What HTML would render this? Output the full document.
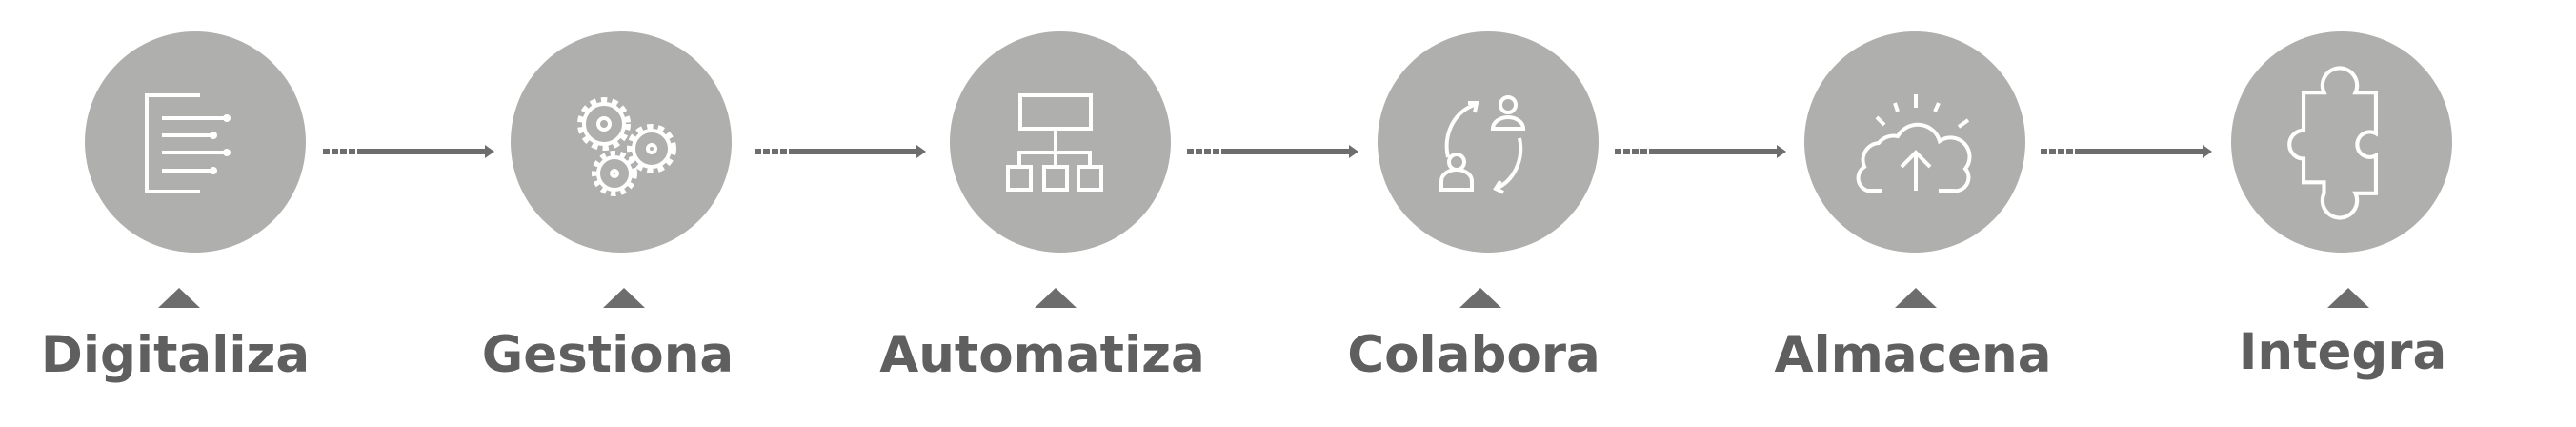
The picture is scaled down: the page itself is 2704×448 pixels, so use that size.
<!DOCTYPE html>
<html><head><meta charset="utf-8"><style>
html,body{margin:0;padding:0;background:#fff;}
svg{display:block;}
text{font-family:"DejaVu Sans","Liberation Sans",sans-serif;font-weight:bold;fill:#5f5f5f;font-size:53px;}
</style></head><body>
<svg width="2704" height="448" viewBox="0 0 2704 448" xmlns="http://www.w3.org/2000/svg">
<defs>
<g id="arr">
<line x1="0" y1="0" x2="38" y2="0" stroke="#6d6d6d" stroke-width="6" stroke-dasharray="7 2"/>
<line x1="38" y1="0" x2="172" y2="0" stroke="#6d6d6d" stroke-width="6"/>
<path d="M170,-7 L180,0 L170,7 Z" fill="#6d6d6d"/>
</g>
</defs>
<g fill="#afafad">
<circle cx="205" cy="149" r="116"/>
<circle cx="652" cy="149" r="116"/>
<circle cx="1113" cy="149" r="116"/>
<circle cx="1562" cy="149" r="116"/>
<circle cx="2010" cy="149" r="116"/>
<circle cx="2458" cy="149" r="116"/>
</g>
<use href="#arr" x="339" y="159"/>
<use href="#arr" x="792" y="159"/>
<use href="#arr" x="1246" y="159"/>
<use href="#arr" x="1695" y="159"/>
<use href="#arr" x="2142" y="159"/>
<g fill="#6d6d6d">
<path d="M166,323 L188,302 L210,323 Z"/>
<path d="M633,323 L655,302 L677,323 Z"/>
<path d="M1086,323 L1108,302 L1130,323 Z"/>
<path d="M1532,323 L1554,302 L1576,323 Z"/>
<path d="M1989,323 L2011,302 L2033,323 Z"/>
<path d="M2443,323 L2465,302 L2487,323 Z"/>
</g>
<g fill="none" stroke="#fff" stroke-width="4">
<!-- icon 1 -->
<path d="M210,100 H154 V201 H210"/>
<path d="M170,124 H236 M170,142 H222 M170,160 H236 M170,179 H222"/>
<g fill="#fff" stroke="none"><circle cx="238" cy="124" r="4"/><circle cx="224" cy="142" r="4"/><circle cx="238" cy="160" r="4"/><circle cx="224" cy="179" r="4"/></g>
<!-- icon 2 gears -->
<circle cx="634" cy="130" r="24" stroke-width="8" stroke-dasharray="6 5"/><circle cx="634" cy="130" r="21" fill="#afafad"/><circle cx="634" cy="130" r="6"/>
<circle cx="684" cy="156" r="22" stroke-width="8" stroke-dasharray="6 5"/><circle cx="684" cy="156" r="19" fill="#afafad"/><circle cx="684" cy="156" r="4"/>
<circle cx="645" cy="182" r="20" stroke-width="8" stroke-dasharray="5 5"/><circle cx="645" cy="182" r="17" fill="#afafad"/><circle cx="645" cy="182" r="3"/>
<!-- icon 3 -->
<g transform="translate(-5,0)">
<rect x="1076" y="100" width="74" height="35"/>
<path d="M1113,135 V160 M1075,175 V160 H1149 V175 M1113,160 V175"/>
<rect x="1063" y="175" width="24" height="24"/><rect x="1101" y="175" width="24" height="24"/><rect x="1137" y="175" width="24" height="24"/>
</g>
<!-- icon 4 -->
<circle cx="1583" cy="110" r="8"/><path d="M1567,135 a16,12 0 0 1 32,0 Z"/>
<circle cx="1529" cy="170" r="8"/><path d="M1513,199 V190 a16,12 0 0 1 32,0 V199 Z"/>
<path d="M1548,110 A40,45 0 0 0 1520,165"/><path d="M1595,145 A40,45 0 0 1 1570,198"/>
<path d="M1541,108 L1550,108 L1548,118"/><path d="M1575,190 L1570,198 L1578,202"/>
<!-- icon 5 -->
<path d="M1976,200 H1960 A14,14 0 0 1 1957,175 A18,18 0 0 1 1972,150 A20,20 0 0 1 1992,143 A24,24 0 0 1 2036,148 A20,20 0 0 1 2063,177 A14,14 0 0 1 2050,200 H2035"/>
<path d="M2011,200 V160 M1996,175 L2011,160 L2026,175"/>
<path d="M2011,99 V113 M1989,108 L1992,117 M2035,108 L2031,117 M1970,123 L1978,131 M2066,126 L2056,133"/>
<!-- icon 6 puzzle -->
<g transform="translate(2456,150) scale(1.65) translate(-2456,-150)">
<path stroke-width="2.5" d="M2446,118 A11,11 0 1 1 2466,118 H2479 V144 A8,8 0 1 0 2479,158 V182 H2466 A11,11 0 1 1 2446,182 V180 V175 H2433 V160 A9,9 0 1 1 2433,142 V118 Z"/>
</g>
</g>
<g text-anchor="middle">
<text x="184" y="390">Digitaliza</text>
<text x="638" y="390">Gestiona</text>
<text x="1094" y="390">Automatiza</text>
<text x="1547" y="390">Colabora</text>
<text x="2008" y="390">Almacena</text>
<text x="2459" y="387">Integra</text>
</g>
</svg>
</body></html>
